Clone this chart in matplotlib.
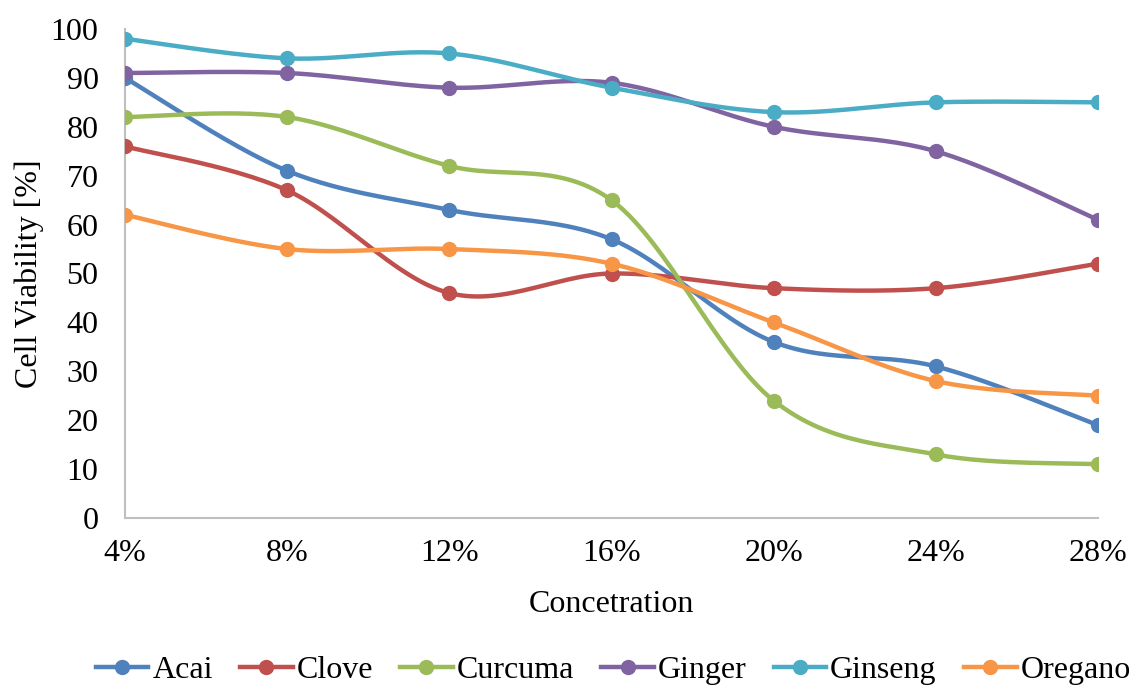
import numpy as np
import matplotlib
matplotlib.use("Agg")
import matplotlib.pyplot as plt
from matplotlib.lines import Line2D

plt.rcParams["font.family"] = ["Liberation Serif", "DejaVu Serif"]

concentrations = ["4%", "8%", "12%", "16%", "20%", "24%", "28%"]
acai = [90, 71, 63, 57, 36, 31, 19]
clove = [76, 67, 46, 50, 47, 47, 52]
curcuma = [82, 82, 72, 65, 24, 13, 11]
ginger = [91, 91, 88, 89, 80, 75, 61]
ginseng = [98, 94, 95, 88, 83, 85, 85]
oregano = [62, 55, 55, 52, 40, 28, 25]

series = [
    ("Acai", acai, "#4F81BD"),
    ("Clove", clove, "#C0504D"),
    ("Curcuma", curcuma, "#9BBB59"),
    ("Ginger", ginger, "#8064A2"),
    ("Ginseng", ginseng, "#4BACC6"),
    ("Oregano", oregano, "#F79646"),
]


def smooth(x, y, steps=30):
    """Excel-like smoothed line: cubic Bezier through points, Catmull-Rom controls."""
    p = np.column_stack([x, y]).astype(float)
    pts = np.vstack([p[0], p, p[-1]])
    out = [p[:1]]
    t = np.linspace(0, 1, steps)[1:, None]
    for i in range(1, len(pts) - 2):
        p0, p1, p2, p3 = pts[i - 1], pts[i], pts[i + 1], pts[i + 2]
        c1 = p1 + (p2 - p0) / 6
        c2 = p2 - (p3 - p1) / 6
        seg = ((1 - t) ** 3) * p1 + 3 * ((1 - t) ** 2) * t * c1 + 3 * (1 - t) * t ** 2 * c2 + t ** 3 * p2
        out.append(seg)
    c = np.vstack(out)
    return c[:, 0], c[:, 1]


fig = plt.figure(figsize=(11.44, 6.86), dpi=100)
ax = fig.add_axes([125 / 1144, 1 - 518 / 686, (1098 - 125) / 1144, (518 - 29) / 686])

xs = np.arange(len(concentrations))
handles = []
for name, vals, col in series:
    sx, sy = smooth(xs, vals)
    ax.plot(sx, sy, color=col, lw=3.2, solid_capstyle="round", zorder=2)
    ax.plot(xs, vals, "o", color=col, ms=10, zorder=3)
    handles.append(Line2D([0], [0], color=col, lw=3.2, marker="o", ms=10, label=name))

ax.set_xlim(0, len(concentrations) - 1)
ax.set_ylim(0, 100)
ax.set_xticks(xs)
ax.set_xticklabels(concentrations)
ax.set_yticks(range(0, 101, 10))
ax.tick_params(axis="both", length=0, labelsize=23)
ax.tick_params(axis="x", pad=15)
ax.tick_params(axis="y", pad=19)
for s in ["top", "right"]:
    ax.spines[s].set_visible(False)
for s in ["left", "bottom"]:
    ax.spines[s].set_color("#BFBFBF")
    ax.spines[s].set_linewidth(1.5)
ax.set_xlabel("Concetration", fontsize=23, labelpad=16)
ax.set_ylabel("Cell Viability [%]", fontsize=23, labelpad=5)

fig.legend(handles=handles, loc="lower center", bbox_to_anchor=(0.536, -0.04), ncol=6,
           frameon=False, fontsize=23, handlelength=1.65, handletextpad=0.12,
           columnspacing=0.85)

fig.savefig("out.png", dpi=100)
